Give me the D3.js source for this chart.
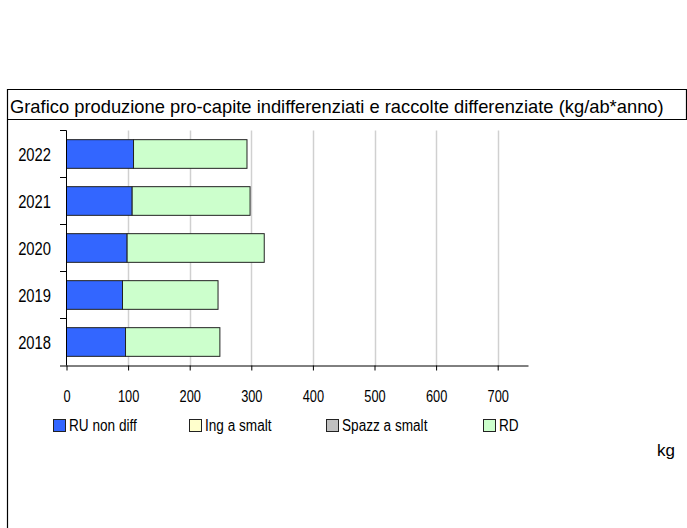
<!DOCTYPE html>
<html>
<head>
<meta charset="utf-8">
<script src="https://cdn.jsdelivr.net/npm/d3@7"></script>
<style>
  body { margin: 0; background: #fff; }
  svg { display: block; }
</style>
</head>
<body>
<div id="chart"></div>
<script>
// data
const years = ["2018", "2019", "2020", "2021", "2022"];
const ruNonDiff = [95.8, 90.9, 98.4, 106.6, 108.8];
const ingSmalt = [0, 0, 0, 0, 0];
const spazzSmalt = [0, 0, 0, 0, 0];
const rd = [153.2, 155.1, 222.6, 191.4, 184.2];
const seriesNames = ["RU non diff", "Ing a smalt", "Spazz a smalt", "RD"];
const seriesColors = ["#3366ff", "#ffffcc", "#c0c0c0", "#ccffcc"];
const xTicks = [0, 100, 200, 300, 400, 500, 600, 700];
const titleText = "Grafico produzione pro-capite indifferenziati e raccolte differenziate (kg/ab*anno)";

// the original uses a condensed face; squeeze the glyphs horizontally
function squeeze(sel, f) {
    sel.each(function () {
        const len = this.getComputedTextLength();
        d3.select(this)
            .attr("textLength", len * f)
            .attr("lengthAdjust", "spacingAndGlyphs");
    });
}

function main() {
    const width = 687;
    const height = 528;
    const font = "'Liberation Sans', Arial, sans-serif";

    const svg = d3.select("#chart").append("svg")
        .attr("width", width)
        .attr("height", height);

    // frame + title box
    svg.append("path")
        .attr("d", "M7.5,528 V89.5 H686.5 V119.5 H7.5")
        .attr("fill", "none")
        .attr("stroke", "#000")
        .attr("stroke-width", 1.2);

    svg.append("text")
        .attr("x", 10)
        .attr("y", 113)
        .attr("font-family", font)
        .attr("font-size", "19px")
        .attr("fill", "#000")
        .text(titleText)
        .call(squeeze, 0.965);

    const table = years.map((y, i) => ({
        year: y,
        "RU non diff": ruNonDiff[i],
        "Ing a smalt": ingSmalt[i],
        "Spazz a smalt": spazzSmalt[i],
        "RD": rd[i]
    }));

    const xScale = d3.scaleLinear().domain([0, 750]).range([66.5, 528.5]);
    const yScale = d3.scaleBand()
        .domain(years.slice().reverse())
        .range([130.5, 365.5])
        .paddingInner(0.39)
        .paddingOuter(0.195);
    const color = d3.scaleOrdinal().domain(seriesNames).range(seriesColors);

    // grid
    svg.append("g").selectAll("line")
        .data(xTicks.filter(d => d > 0))
        .enter()
        .append("line")
        .attr("x1", d => Math.round(xScale(d)) + 0.5)
        .attr("x2", d => Math.round(xScale(d)) + 0.5)
        .attr("y1", 130.5)
        .attr("y2", 365.5)
        .attr("stroke", "#d0d0d0")
        .attr("stroke-width", 1.5);

    // bars
    const stacked = d3.stack().keys(seriesNames)(table);
    svg.append("g").selectAll("g")
        .data(stacked)
        .enter()
        .append("g")
        .attr("fill", d => color(d.key))
        .selectAll("rect")
        .data(d => d.filter(s => s[1] - s[0] > 0))
        .enter()
        .append("rect")
        .attr("x", d => xScale(d[0]))
        .attr("y", d => yScale(d.data.year))
        .attr("width", d => xScale(d[1]) - xScale(d[0]))
        .attr("height", yScale.bandwidth())
        .attr("stroke", "#222")
        .attr("stroke-width", 1);

    // y axis with ticks at band boundaries
    const step = yScale.step();
    const bounds = d3.range(years.length + 1).map(i => 130.5 + i * step);
    svg.append("line")
        .attr("x1", 66.5).attr("x2", 66.5)
        .attr("y1", 130.5).attr("y2", 365.5)
        .attr("stroke", "#000");
    svg.append("g").selectAll("line")
        .data(bounds.slice(0, -1))
        .enter()
        .append("line")
        .attr("x1", 60).attr("x2", 66.5)
        .attr("y1", d => d).attr("y2", d => d)
        .attr("stroke", "#000");
    svg.append("g").selectAll("text")
        .data(years)
        .enter()
        .append("text")
        .attr("x", 51)
        .attr("y", d => yScale(d) + yScale.bandwidth() / 2 + 6.5)
        .attr("text-anchor", "end")
        .attr("font-family", font)
        .attr("font-size", "18px")
        .attr("fill", "#000")
        .text(d => d)
        .call(squeeze, 0.82);

    // x axis
    const xAxis = svg.append("g")
        .attr("transform", "translate(0,365.5)")
        .call(d3.axisBottom(xScale).tickValues(xTicks).tickSize(5).tickPadding(20).tickSizeOuter(0));
    xAxis.select(".domain").attr("d", "M60,0.5H528.5").attr("stroke", "#000");
    xAxis.selectAll(".tick line").attr("stroke", "#000");
    xAxis.selectAll(".tick text")
        .attr("font-family", font)
        .attr("font-size", "16px")
        .attr("fill", "#000")
        .call(squeeze, 0.8);

    // legend
    const legendX = [53, 189, 326, 483];
    const legend = svg.append("g").selectAll("g")
        .data(seriesNames)
        .enter()
        .append("g")
        .attr("transform", (d, i) => "translate(" + legendX[i] + ",419)");
    legend.append("rect")
        .attr("x", 0.5).attr("y", 0.5)
        .attr("width", 12).attr("height", 12)
        .attr("fill", d => color(d))
        .attr("stroke", "#222");
    legend.append("text")
        .attr("x", 16)
        .attr("y", 12)
        .attr("font-family", font)
        .attr("font-size", "16px")
        .attr("fill", "#000")
        .text(d => d)
        .call(squeeze, 0.85);

    svg.append("text")
        .attr("x", 657)
        .attr("y", 456)
        .attr("font-family", font)
        .attr("font-size", "17px")
        .attr("fill", "#000")
        .text("kg");
}
main();
</script>
</body>
</html>
